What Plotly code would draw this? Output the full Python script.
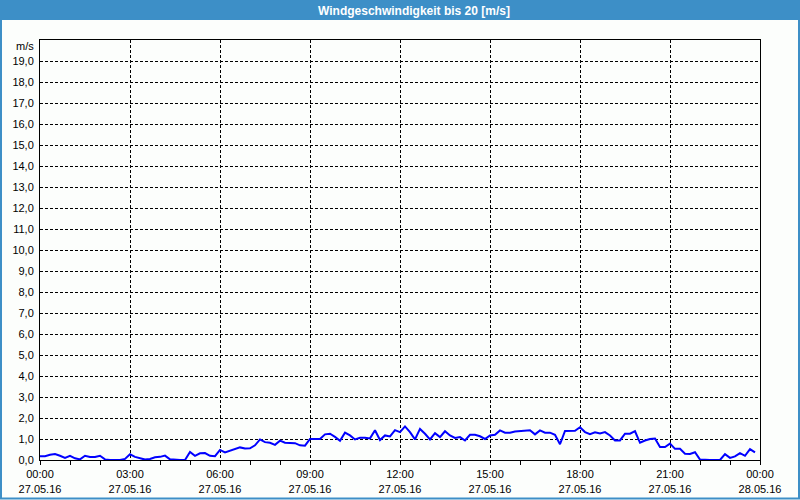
import pandas as pd
import plotly.graph_objects as go

# ---- data (10-minute wind speed readings, m/s) ----
night = [0.18, 0.18, 0.25, 0.28, 0.2, 0.1, 0.2, 0.08, 0.03, 0.2, 0.14, 0.14,
         0.2, 0.03, 0.0, 0.0, 0.0, 0.05, 0.27, 0.15, 0.1, 0.02, 0.05, 0.13,
         0.15, 0.21, 0.03, 0.0, 0.0, 0.0, 0.38, 0.2, 0.32, 0.33, 0.2, 0.18]
morning = [0.48, 0.36, 0.45, 0.52, 0.6, 0.55, 0.56, 0.7, 0.98, 0.85, 0.82, 0.72,
           0.92, 0.82, 0.82, 0.8, 0.7, 0.68, 1.0, 1.0, 1.0, 1.22, 1.25, 1.1,
           0.92, 1.3, 1.17, 0.98, 1.06, 1.06, 1.03, 1.42, 0.95, 1.17, 1.12, 1.42]
afternoon = [1.33, 1.6, 1.33, 0.98, 1.48, 1.25, 0.98, 1.28, 1.09, 1.37, 1.17, 1.05,
             1.09, 0.93, 1.2, 1.2, 1.13, 1.0, 1.17, 1.2, 1.41, 1.3, 1.3, 1.36,
             1.38, 1.41, 1.42, 1.22, 1.41, 1.3, 1.3, 1.2, 0.75, 1.38, 1.39, 1.39]
evening = [1.56, 1.33, 1.23, 1.32, 1.26, 1.33, 1.17, 0.93, 0.93, 1.25, 1.25, 1.37,
           0.82, 0.93, 1.0, 1.02, 0.62, 0.62, 0.78, 0.53, 0.53, 0.3, 0.29, 0.37,
           0.02, 0.0, 0.0, 0.0, 0.0, 0.28, 0.1, 0.17, 0.33, 0.2, 0.52, 0.36]
speed = night + morning + afternoon + evening
times = pd.date_range("2016-05-27 00:00", periods=len(speed), freq="10min")

x_tick_times = ["2016-05-27 00:00", "2016-05-27 03:00", "2016-05-27 06:00",
                "2016-05-27 09:00", "2016-05-27 12:00", "2016-05-27 15:00",
                "2016-05-27 18:00", "2016-05-27 21:00", "2016-05-28 00:00"]
x_tick_labels = ["00:00<br>27.05.16", "03:00<br>27.05.16", "06:00<br>27.05.16",
                 "09:00<br>27.05.16", "12:00<br>27.05.16", "15:00<br>27.05.16",
                 "18:00<br>27.05.16", "21:00<br>27.05.16", "00:00<br>28.05.16"]
y_tick_vals = list(range(0, 20))
y_tick_labels = [f"{v},0" for v in y_tick_vals]

title_text = "Windgeschwindigkeit bis 20 [m/s]"
unit_text = "m/s"

BLUE_BAR = "#3D8FC7"
BG = "#FCFEFC"
FONT = "Liberation Sans"

# plot area in pixels: x 40..760, y 40..460
L, R, T, B = 40, 40, 40, 40
W, H = 800, 500
PW, PH = W - L - R, H - T - B

def px(xp):
    return (xp - L) / PW

def py(yp):
    return (H - B - yp) / PH

fig = go.Figure()
fig.add_trace(go.Scatter(
    x=times, y=speed, mode="lines",
    line=dict(color="#0000FF", width=2),
    hoverinfo="skip", showlegend=False,
))

fig.update_layout(
    width=W, height=H, autosize=False,
    margin=dict(l=L, r=R, t=T, b=B, pad=0),
    paper_bgcolor=BG, plot_bgcolor=BG,
    font=dict(family=FONT, size=11, color="black"),
    showlegend=False,
    xaxis=dict(
        type="date", automargin=False,
        range=["2016-05-27 00:00", "2016-05-28 00:00"],
        tickmode="array", tickvals=x_tick_times, ticktext=x_tick_labels,
        ticks="outside", ticklen=4, tickcolor="black", tickwidth=1,
        showgrid=True, gridcolor="black", griddash="3px,2px", gridwidth=1,
        showline=True, linecolor="black", linewidth=1, mirror=True,
        zeroline=False,
        minor=dict(dtick=3600000, ticks="outside", ticklen=4, tickcolor="black",
                   showgrid=False),
        tickfont=dict(family=FONT, size=11, color="black"),
    ),
    yaxis=dict(
        range=[0, 20], automargin=False,
        tickmode="array", tickvals=y_tick_vals, ticktext=y_tick_labels,
        ticks="", showgrid=True, gridcolor="black", griddash="3px,2px", gridwidth=1,
        showline=True, linecolor="black", linewidth=1, mirror=True,
        zeroline=False, ticklabelstandoff=3,
        tickfont=dict(family=FONT, size=11, color="black"),
    ),
    shapes=[
        dict(type="rect", xref="paper", yref="paper",
             x0=px(0), x1=px(800), y0=py(20), y1=py(0),
             fillcolor=BLUE_BAR, line=dict(width=0), layer="above"),
        dict(type="rect", xref="paper", yref="paper",
             x0=px(1), x1=px(799), y0=py(498.5), y1=py(1),
             fillcolor="rgba(0,0,0,0)", line=dict(color=BLUE_BAR, width=2),
             layer="above"),
    ],
    annotations=[
        dict(text=title_text, xref="paper", yref="paper",
             x=px(414), y=py(10.5), xanchor="center", yanchor="middle",
             showarrow=False, font=dict(family=FONT, size=12, color="white",
                                        weight="bold")),
        dict(text=unit_text, xref="paper", yref="paper",
             x=px(36), y=py(46.5), xanchor="right", yanchor="middle",
             showarrow=False, font=dict(family=FONT, size=11, color="black")),
    ],
)

fig.write_html("out.html", config={"responsive": False, "displayModeBar": False})
